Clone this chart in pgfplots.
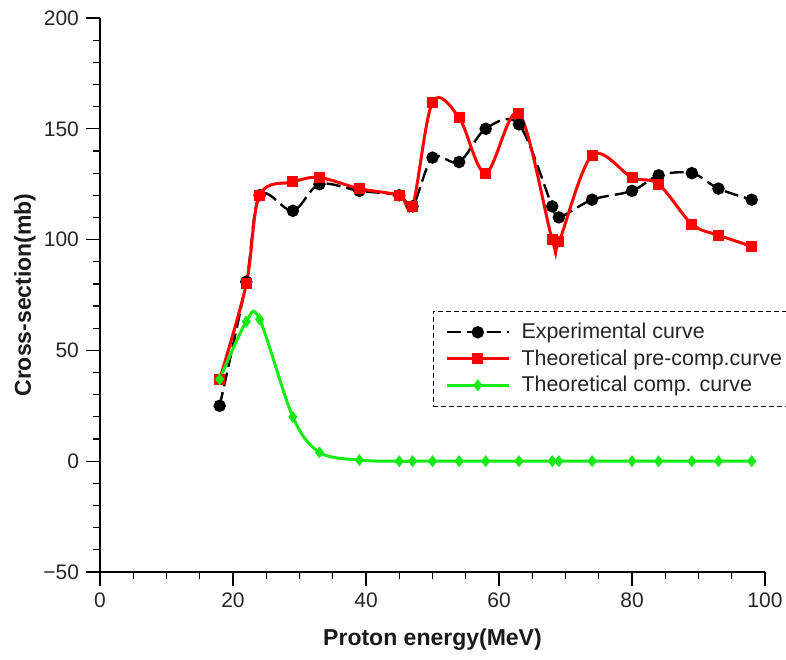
\documentclass[border=0pt]{standalone}
\usepackage{pgfplots}
\pgfplotsset{compat=1.18}
\usepackage{fontspec}
\setmainfont{Liberation Sans}
\definecolor{tgreen}{RGB}{20,235,20}
\begin{document}
\begin{tikzpicture}
\useasboundingbox (-50pt,-43.5pt) rectangle (343pt,286pt);
\begin{axis}[
  at={(0pt,0pt)}, anchor=south west,
  scale only axis, width=332.5pt, height=277pt,
  xmin=0, xmax=100, ymin=-50, ymax=200,
  axis lines*=left,
  xtick={0,20,...,100}, ytick={-50,0,50,100,150,200},
  yticklabels={\char"2212 50,0,50,100,150,200},
  minor x tick num=3, minor y tick num=4,
  tick align=outside,
  major tick length=7pt, minor tick length=3.5pt,
  tick style={black, line width=0.6pt},
  axis line style={black, line width=0.6pt},
  ticklabel style={font=\fontsize{10.5}{12}\selectfont, text=black!85},
  /pgf/number format/assume math mode=true,
  xlabel={Proton energy(MeV)}, ylabel={Cross-section(mb)},
  label style={font=\fontsize{11.5}{13}\selectfont\bfseries, text=black!90},
  xlabel style={at={(axis description cs:0.5,-0.1227)}, anchor=center},
  ylabel style={at={(axis description cs:-0.1128,0.5)}, anchor=center},
  legend style={at={(axis cs:50,68)}, anchor=north west,
    draw=black, dash pattern=on 2.5pt off 1.5pt, line width=0.5pt,
    font=\fontsize{10.7}{12.5}\selectfont, text=black!85,
    inner xsep=6pt, inner ysep=4pt, row sep=0pt,
    cells={anchor=west},
    /tikz/every odd column/.append style={column sep=3.5pt}},
  legend image code/.code={\draw[mark repeat=2,mark phase=2,#1] plot coordinates {(0cm,0cm) (0.55cm,0cm) (1.1cm,0cm)};},
  clip=false,
]
\addplot[black, line width=1.2pt, dash pattern=on 7pt off 3pt, smooth, tension=0.55,
  mark=*, mark size=2.5pt, mark options={solid, fill=black}]
  coordinates {(18,25)(22,81)(24,120)(29,113)(33,125)(39,122)(45,120)(47,115)(50,137)(54,135)(58,150)(63,152)(68,115)(69,110)(74,118)(80,122)(84,129)(89,130)(93,123)(98,118)};
\addlegendentry{Experimental curve}
\addplot[red, solid, line width=1.5pt, smooth, tension=0.55,
  mark=square*, mark size=2pt, mark options={solid, fill=red}]
  coordinates {(18,37)(22,80)(24,120)(29,126)(33,128)(39,123)(45,120)(47,115)(50,162)(54,155)(58,130)(63,157)(68,100)(69,99)(74,138)(80,128)(84,125)(89,107)(93,102)(98,97)};
\addlegendentry{Theoretical pre-comp.curve}
\addplot[tgreen, solid, line width=1.5pt, smooth, tension=0.55,
  mark=diamond*, mark size=1.8pt, mark options={solid, fill=tgreen}]
  coordinates {(18,37)(22,63)(24,64)(29,20)(33,4)(39,0.5)(45,0)(47,0)(50,0)(54,0)(58,0)(63,0)(68,0)(69,0)(74,0)(80,0)(84,0)(89,0)(93,0)(98,0)};
\addlegendentry{Theoretical comp. curve}
\end{axis}
\end{tikzpicture}
\end{document}
